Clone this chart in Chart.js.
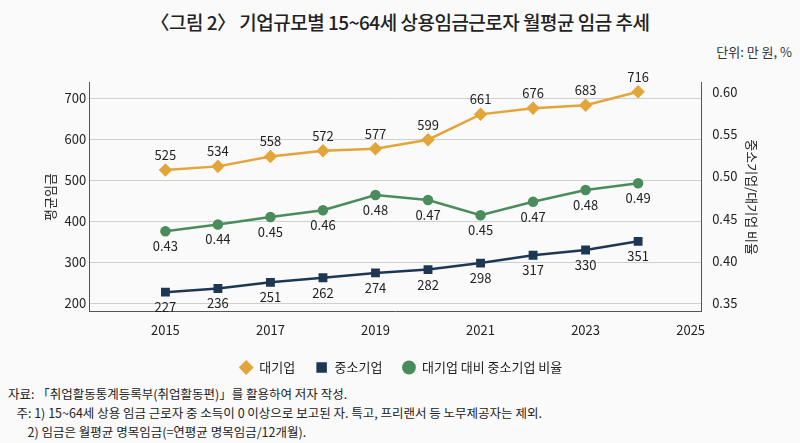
<!DOCTYPE html>
<html><head><meta charset="utf-8">
<script src="https://cdn.jsdelivr.net/npm/chart.js@4"></script>
<style>
body{margin:0;width:800px;height:443px;background:#fafafa;font-family:"Noto Sans CJK KR",sans-serif;color:#222;position:relative;overflow:hidden}
#title{position:absolute;top:8px;width:800px;text-align:center;font-size:19px;font-weight:500;letter-spacing:-0.5px}
#unit{position:absolute;top:42px;right:8px;font-size:13px;color:#333}
#wrap{position:absolute;left:0;top:72px;width:800px;height:312px}
#notes{position:absolute;left:8px;top:384px;font-size:12.5px;line-height:19px}
</style></head><body>
<div id="title">〈그림 2〉 기업규모별 15~64세 상용임금근로자 월평균 임금 추세</div>
<div id="unit">단위: 만 원, %</div>
<div id="wrap"><canvas id="chart"></canvas></div>
<div id="notes">자료: 「취업활동통계등록부(취업활동편)」를 활용하여 저자 작성.<br>
&nbsp;&nbsp;&nbsp;주: 1) 15~64세 상용 임금 근로자 중 소득이 0 이상으로 보고된 자. 특고, 프리랜서 등 노무제공자는 제외.<br>
&nbsp;&nbsp;&nbsp;&nbsp;&nbsp;&nbsp;&nbsp;2) 임금은 월평균 명목임금(=연평균 명목임금/12개월).</div>
<script>
const years = [2015, 2016, 2017, 2018, 2019, 2020, 2021, 2022, 2023, 2024];
const large = [525, 534, 558, 572, 577, 599, 661, 676, 683, 716];
const small = [227, 236, 251, 262, 274, 282, 298, 317, 330, 351];
const ratio = [0.435, 0.443, 0.452, 0.460, 0.478, 0.472, 0.454, 0.470, 0.484, 0.492];
const ratioLabels = ["0.43", "0.44", "0.45", "0.46", "0.48", "0.47", "0.45", "0.47", "0.48", "0.49"];

const pts = arr => years.map((y, i) => ({x: y, y: arr[i]}));
const font = {family: "'Noto Sans CJK KR', sans-serif", size: 13};

const labelPlugin = {
  id: "labels",
  afterDatasetsDraw(chart) {
    const c = chart.ctx;
    c.save();
    c.font = "13px 'Noto Sans CJK KR', sans-serif";
    c.fillStyle = "#222";
    c.textAlign = "center";
    c.textBaseline = "middle";
    chart.data.datasets.forEach((ds, di) => {
      chart.getDatasetMeta(di).data.forEach((p, i) => {
        let txt, dy;
        if (di === 0) { txt = large[i]; dy = -15; }
        else if (di === 1) { txt = small[i]; dy = 15; }
        else { txt = ratioLabels[i]; dy = 15; }
        c.fillText(txt, p.x, p.y + dy);
      });
    });
    c.restore();
  }
};

new Chart(document.getElementById("chart"), {
  type: "line",
  data: {
    datasets: [
      {label: "대기업", data: pts(large), borderColor: "#e3a53a", backgroundColor: "#e3a53a",
       pointStyle: "rectRot", pointRadius: 5, borderWidth: 2.5, yAxisID: "y"},
      {label: "중소기업", data: pts(small), borderColor: "#1e3854", backgroundColor: "#1e3854",
       pointStyle: "rect", pointRadius: 4.5, borderWidth: 2.5, yAxisID: "y"},
      {label: "대기업 대비 중소기업 비율", data: pts(ratio), borderColor: "#4a8c5c", backgroundColor: "#4a8c5c",
       pointStyle: "circle", pointRadius: 4, borderWidth: 2.5, yAxisID: "y1"}
    ]
  },
  options: {
    responsive: true, maintainAspectRatio: false, animation: false,
    layout: {padding: {left: 38, right: 36, top: 0, bottom: 0}},
    plugins: {
      legend: {position: "bottom", labels: {font, color: "#222", usePointStyle: true, boxWidth: 30, boxHeight: 8, padding: 20}},
      tooltip: {enabled: false}
    },
    scales: {
      x: {type: "linear", min: 2013.55, max: 2025.2,
          afterBuildTicks: a => { a.ticks = [2015, 2017, 2019, 2021, 2023, 2025].map(v => ({value: v})); },
          ticks: {font, color: "#222", callback: v => String(v)},
          grid: {display: false, drawTicks: true}, border: {color: "#555"}},
      y: {min: 180, max: 738,
          afterBuildTicks: a => { a.ticks = [200, 300, 400, 500, 600, 700].map(v => ({value: v})); },
          ticks: {font, color: "#222"},
          title: {display: true, text: "평균임금", font, color: "#222"},
          grid: {color: "#cfcfcf", borderDash: [2, 3], drawTicks: false}, border: {color: "#555", dash: []}},
      y1: {position: "right", min: 0.340, max: 0.611,
          afterBuildTicks: a => { a.ticks = [0.35, 0.40, 0.45, 0.50, 0.55, 0.60].map(v => ({value: v})); },
          ticks: {font, color: "#222", callback: v => v.toFixed(2)},
          title: {display: true, text: "중소기업/대기업 비율", font, color: "#222"},
          grid: {display: false}, border: {color: "#555"}}
    }
  },
  plugins: [labelPlugin]
});
</script>
</body></html>
